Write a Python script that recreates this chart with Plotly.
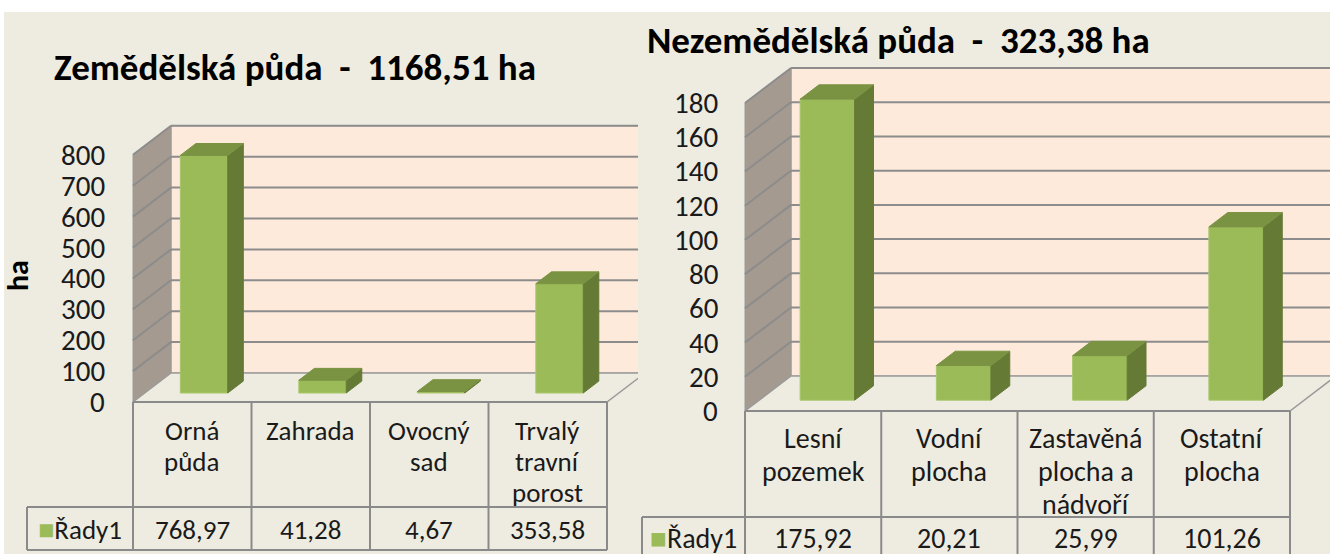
import plotly.graph_objects as go

# ---------------- data ----------------
series_name = "Řady1"

left_title = "Zemědělská půda  -  1168,51 ha"
left_categories = ["Orná\npůda", "Zahrada", "Ovocný\nsad", "Trvalý\ntravní\nporost"]
left_values = [768.97, 41.28, 4.67, 353.58]
left_ticks = [0, 100, 200, 300, 400, 500, 600, 700, 800]
left_axis_title = "ha"

right_title = "Nezemědělská půda  -  323,38 ha"
right_categories = ["Lesní\npozemek", "Vodní\nplocha", "Zastavěná\nplocha a\nnádvoří", "Ostatní\nplocha"]
right_values = [175.92, 20.21, 25.99, 101.26]
right_ticks = [0, 20, 40, 60, 80, 100, 120, 140, 160, 180]

# ---------------- style / layout constants ----------------
FIG_W, FIG_H = 1330, 554
FONT = "Carlito, Calibri, Lato, sans-serif"
BG = "#EEECE1"
WALL_BACK = "#FDEADA"
WALL_SIDE = "#A59A8F"
GRID = "#8C8C8C"
EDGE = "#9A9A9A"
TABLE_LINE = "#8A8A8A"
BAR_FRONT = "#9BBB59"
BAR_TOP = "#7A9342"
BAR_SIDE = "#647A35"
TEXT = "#1A1A1A"

LEFT = dict(xa="x", ya="y", px0=0, px1=638, X0=133, W=118.5, Y0=402, S=0.309,
            DX=38, DY=29, table_mid=507, table_bot=550, legend_left=27,
            cat_first=430, line_gap=31, val_y=529, tick_gap=28,
            font=27, tick_font=29)
RIGHT = dict(xa="x2", ya="y2", px0=638, px1=1330, X0=745, W=136.25, Y0=411, S=1.711,
             DX=46, DY=35, table_mid=517, table_bot=560, legend_left=642,
             cat_first=438, line_gap=33, val_y=538, tick_gap=27,
             font=28, tick_font=29)

D0, D1, HW = 0.31, 0.72, 0.2  # bar depth span and half width (category units)

fig = go.Figure()
annotations = []


def fmt(v):
    return f"{v:.2f}".replace(".", ",")


def add_chart(cfg, categories, values, ticks, idx):
    W, X0, Y0, S = cfg["W"], cfg["X0"], cfg["Y0"], cfg["S"]
    cx = lambda p: (p - X0) / W - 0.5
    vy = lambda p: (Y0 - p) / S
    ddx, ddy = cfg["DX"] / W, cfg["DY"] / S
    n = len(categories)
    xl, xr = -0.5, n - 0.5
    vmax = ticks[-1]
    xa, ya = cfg["xa"], cfg["ya"]
    suffix = "" if idx == 1 else str(idx)

    def poly(pts, fill, line_color=None, width=1):
        xs = [p[0] for p in pts] + [pts[0][0]]
        ys = [p[1] for p in pts] + [pts[0][1]]
        fig.add_trace(go.Scatter(
            x=xs, y=ys, xaxis=xa, yaxis=ya, mode="lines", fill="toself",
            fillcolor=fill, line=dict(color=line_color or fill, width=width),
            hoverinfo="skip", showlegend=False))

    def lines(segs, color, width):
        xs, ys = [], []
        for (a, b) in segs:
            xs += [a[0], b[0], None]
            ys += [a[1], b[1], None]
        fig.add_trace(go.Scatter(
            x=xs, y=ys, xaxis=xa, yaxis=ya, mode="lines",
            line=dict(color=color, width=width), hoverinfo="skip", showlegend=False))

    # walls
    poly([(xl + ddx, ddy), (xr + ddx + 2, ddy), (xr + ddx + 2, vmax + ddy), (xl + ddx, vmax + ddy)],
         WALL_BACK, EDGE, 1)
    poly([(xl, 0), (xl, vmax), (xl + ddx, vmax + ddy), (xl + ddx, ddy)], WALL_SIDE, EDGE, 1)
    # gridlines
    segs = []
    for t in ticks[1:]:
        segs.append(((xl + ddx, t + ddy), (xr + ddx + 2, t + ddy)))
        segs.append(((xl, t), (xl + ddx, t + ddy)))
    lines(segs, GRID, 2)
    # floor
    poly([(xl, 0), (xr, 0), (xr + ddx, ddy), (xl + ddx, ddy)], BG, EDGE, 1.5)

    # bars
    for i, v in enumerate(values):
        a, b = i - HW, i + HW
        f0x, f0y = D0 * ddx, D0 * ddy
        f1x, f1y = D1 * ddx, D1 * ddy
        poly([(a + f0x, f0y), (b + f0x, f0y), (b + f0x, v + f0y), (a + f0x, v + f0y)],
             BAR_FRONT, "#A9C66B", 1)
        poly([(b + f0x, f0y), (b + f1x, f1y), (b + f1x, v + f1y), (b + f0x, v + f0y)],
             BAR_SIDE, BAR_SIDE, 1)
        poly([(a + f0x, v + f0y), (b + f0x, v + f0y), (b + f1x, v + f1y), (a + f1x, v + f1y)],
             BAR_TOP, BAR_TOP, 1)

    # data table
    ym, yb = vy(cfg["table_mid"]), vy(cfg["table_bot"])
    xleg = cx(cfg["legend_left"])
    tsegs = [((xl + k, 0), (xl + k, yb)) for k in range(n + 1)]
    tsegs += [((xleg, ym), (xr, ym)), ((xleg, yb), (xr, yb)), ((xleg, ym), (xleg, yb))]
    tsegs += [((xl, 0), (xr, 0))]
    lines(tsegs, TABLE_LINE, 2)

    # tick labels
    for t in ticks:
        annotations.append(dict(
            x=xl, y=t, xref=xa, yref=ya, text=str(t), showarrow=False,
            xanchor="right", yanchor="middle", xshift=-cfg["tick_gap"] + 2,
            font=dict(family=FONT, size=cfg["tick_font"], color=TEXT)))
    # category labels
    for i, c in enumerate(categories):
        for k, part in enumerate(c.split("\n")):
            annotations.append(dict(
                x=i, y=vy(cfg["cat_first"] + k * cfg["line_gap"]), xref=xa, yref=ya,
                text=part, showarrow=False, xanchor="center", yanchor="middle",
                font=dict(family=FONT, size=cfg["font"], color=TEXT)))
    # values
    for i, v in enumerate(values):
        annotations.append(dict(
            x=i, y=vy(cfg["val_y"]), xref=xa, yref=ya, text=fmt(v), showarrow=False,
            xanchor="center", yanchor="middle",
            font=dict(family=FONT, size=cfg["font"], color=TEXT)))
    annotations.append(dict(
        x=(xleg + xl) / 2, y=vy(cfg["val_y"]), xref=xa, yref=ya,
        text=f'<span style="color:{BAR_FRONT}">■</span>{series_name}', showarrow=False,
        xanchor="center", yanchor="middle",
        font=dict(family=FONT, size=cfg["font"], color=TEXT)))

    ax = dict(visible=False, fixedrange=True, showgrid=False, zeroline=False)
    fig.layout["xaxis" + suffix] = dict(ax, domain=[cfg["px0"] / FIG_W, cfg["px1"] / FIG_W],
                                        range=[cx(cfg["px0"]), cx(cfg["px1"])],
                                        anchor="y" + suffix)
    fig.layout["yaxis" + suffix] = dict(ax, domain=[0, 1], range=[vy(FIG_H), vy(0)],
                                        anchor="x" + suffix)


add_chart(LEFT, left_categories, left_values, left_ticks, 1)
add_chart(RIGHT, right_categories, right_values, right_ticks, 2)

# titles
annotations.append(dict(x=52 / FIG_W, y=1 - 68 / FIG_H, xref="paper", yref="paper",
                        text=f"<b>{left_title.replace(' ', '&nbsp;')}</b>", showarrow=False,
                        xanchor="left", yanchor="middle",
                        font=dict(family=FONT, size=37, color="#000000")))
annotations.append(dict(x=645 / FIG_W, y=1 - 41 / FIG_H, xref="paper", yref="paper",
                        text=f"<b>{right_title.replace(' ', '&nbsp;')}</b>", showarrow=False,
                        xanchor="left", yanchor="middle",
                        font=dict(family=FONT, size=37, color="#000000")))
annotations.append(dict(x=17 / FIG_W, y=1 - 276 / FIG_H, xref="paper", yref="paper",
                        text=f"<b>{left_axis_title}</b>", showarrow=False, textangle=-90,
                        xanchor="center", yanchor="middle",
                        font=dict(family=FONT, size=30, color="#000000")))

fig.update_layout(
    width=FIG_W, height=FIG_H, margin=dict(l=0, r=0, t=0, b=0),
    paper_bgcolor="#FFFFFF", plot_bgcolor="rgba(0,0,0,0)",
    showlegend=False, annotations=annotations,
    shapes=[dict(type="rect", xref="paper", yref="paper", x0=4 / FIG_W, x1=1,
                 y0=0, y1=1 - 12 / FIG_H, fillcolor=BG, line=dict(width=0), layer="below")],
)

fig.write_html("out.html", config={"displayModeBar": False},
               post_script="document.body.style.margin='0px';document.body.style.overflow='hidden';")
